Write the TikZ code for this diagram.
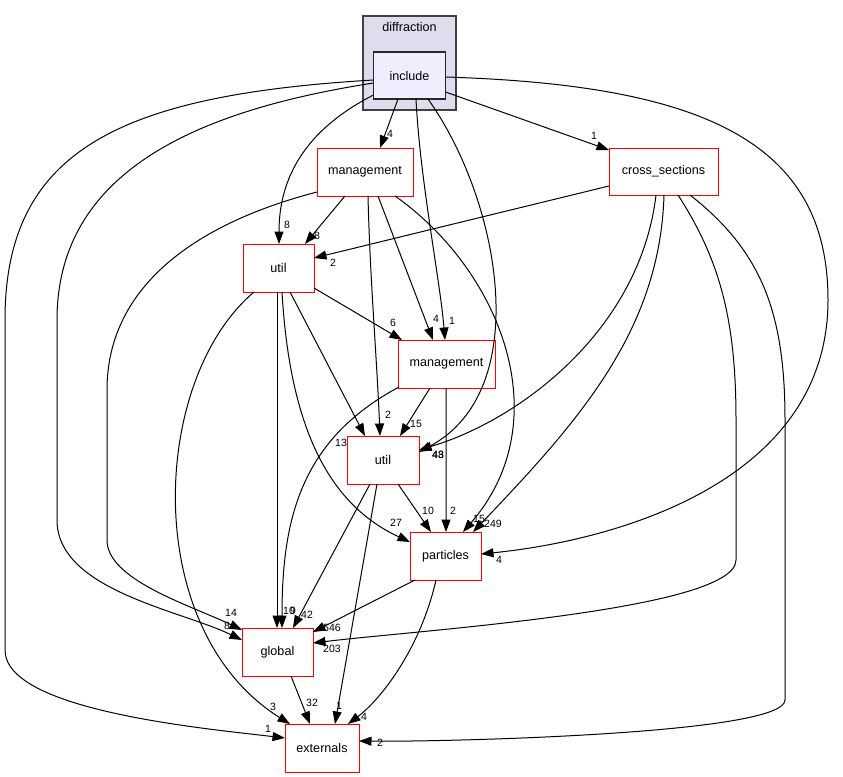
\documentclass[tikz,border=0pt]{standalone}
\usepackage{fontspec}
\setmainfont{Liberation Sans}
\usetikzlibrary{arrows.meta,calc}
\begin{document}
\begin{tikzpicture}[x=1bp,y=-1bp,
  dnode/.style={draw=red, line width=1bp, fill=white, minimum width=#1, minimum height=48bp, inner sep=0pt, font=\fontsize{12.6bp}{14bp}\selectfont},
  dep/.style={draw=black, line width=1bp, -{Triangle[length=12.5bp,width=9bp]}},
  lbl/.style={font=\fontsize{10.5bp}{12bp}\selectfont, inner sep=0pt}]
\useasboundingbox (0,0) rectangle (843,777);
\fill[white] (0,0) rectangle (843,777);
% cluster
\draw[fill={rgb,255:red,221;green,221;blue,238}, draw={rgb,255:red,64;green,64;blue,64}, line width=1.2bp] (363,16) rectangle (456,110);
\node[font=\fontsize{12.6bp}{14bp}\selectfont, inner sep=0pt] (cl) at (409.5,27) {diffraction};
% nodes
\node[dnode=72bp, minimum height=47bp, draw={rgb,255:red,40;green,40;blue,40}, line width=1.2bp, fill={rgb,255:red,238;green,238;blue,255}] (inc) at (409.5,75.5) {include};
\node[dnode=96bp] (m1) at (365,172) {management};
\node[dnode=109bp, minimum height=47bp] (cs) at (663.5,171.5) {cross\_sections};
\node[dnode=71bp] (u1) at (278.5,268) {util};
\node[dnode=97bp] (m2) at (446.5,364) {management};
\node[dnode=72bp] (u2) at (383,460) {util};
\node[dnode=71bp] (pa) at (445.5,556) {particles};
\node[dnode=71bp] (gl) at (277.5,652) {global};
\node[dnode=74bp] (ex) at (322,748) {externals};
% edges from include
\draw[dep] ($(inc)+(-11.5,23.5)$) -- ($(m1)+(15,-24)$);
\draw[dep] ($(inc)+(36,16.5)$) -- ($(cs)+(-54.5,-21.5)$);
\draw[dep] ($(inc)+(-36,19.5)$) .. controls (305,130) and ($(u1)+(0.5,-90)$) .. ($(u1)+(0.5,-24)$);
\draw[dep] ($(inc)+(6.5,23.5)$) .. controls (420,180) and (440,280) .. ($(m2)+(-1.5,-24)$);
\draw[dep] ($(inc)+(18.5,23.5)$) .. controls (500,200) and (535,390) .. ($(u2)+(36,-8)$);
\draw[dep] ($(inc)+(36,1.5)$) .. controls (700,85) and (828,140) .. (828,300) .. controls (828,480) and (620,540) .. ($(pa)+(35.5,-2)$);
\draw[dep] ($(inc)+(-36,7.5)$) .. controls (200,110) and (57,170) .. (57,320) -- (57,520) .. controls (57,590) and (180,610) .. ($(gl)+(-35.5,-12)$);
\draw[dep] ($(inc)+(-36,4.5)$) .. controls (120,95) and (5,150) .. (5,320) -- (5,650) .. controls (5,710) and (200,728) .. ($(ex)+(-37,-10)$);
% edges from management (top)
\draw[dep] ($(m1)+(-20,24)$) -- ($(u1)+(26.5,-24)$);
\draw[dep] ($(m1)+(13,24)$) -- ($(m2)+(-13.5,-24)$);
\draw[dep] ($(m1)+(3,24)$) .. controls (370,280) and (377,360) .. ($(u2)+(-3,-24)$);
\draw[dep] ($(m1)+(30,24)$) .. controls (500,270) and (560,420) .. ($(pa)+(17.5,-24)$);
\draw[dep] ($(m1)+(-48,20)$) .. controls (190,225) and (107,290) .. (107,390) -- (107,540) .. controls (107,580) and (190,605) .. ($(gl)+(-35.5,-22)$);
% edges from cross_sections
\draw[dep] ($(cs)+(-54.5,14.5)$) -- ($(u1)+(35.5,-10)$);
\draw[dep] ($(cs)+(-7.5,23.5)$) .. controls (640,330) and (520,420) .. ($(u2)+(36,-10)$);
\draw[dep] ($(cs)+(0.5,23.5)$) .. controls (660,330) and (580,420) .. ($(pa)+(27.5,-24)$);
\draw[dep] ($(cs)+(14.5,23.5)$) .. controls (720,260) and (736,320) .. (736,420) -- (736,560) .. controls (736,610) and (420,630) .. ($(gl)+(35.5,-9)$);
\draw[dep] ($(cs)+(26.5,23.5)$) .. controls (760,250) and (785,310) .. (785,420) -- (785,700) .. controls (785,735) and (430,742) .. ($(ex)+(37,-7)$);
% edges from util (top)
\draw[dep] ($(u1)+(35.5,20)$) -- ($(m2)+(-44.5,-24)$);
\draw[dep] ($(u1)+(11.5,24)$) -- ($(u2)+(-18,-24)$);
\draw[dep] ($(u1)+(3.5,24)$) .. controls (290,430) and (330,505) .. ($(pa)+(-35.5,-14)$);
\draw[dep] ($(u1)+(-1.5,24)$) -- ($(gl)+(-0.5,-24)$);
\draw[dep] ($(u1)+(-24.5,24)$) .. controls (150,380) and (140,630) .. ($(ex)+(-32,-24)$);
% edges from management (mid)
\draw[dep] ($(m2)+(-16.5,24)$) -- ($(u2)+(17,-24)$);
\draw[dep] ($(m2)+(-0.5,24)$) -- ($(pa)+(0.5,-24)$);
\draw[dep] ($(m2)+(-47.5,23)$) .. controls (300,440) and (282,520) .. ($(gl)+(4.5,-24)$);
% edges from util (mid)
\draw[dep] ($(u2)+(15,24)$) -- ($(pa)+(-14.5,-24)$);
\draw[dep] ($(u2)+(-13,24)$) -- ($(gl)+(15.5,-24)$);
\draw[dep] ($(u2)+(-6,24)$) -- ($(ex)+(13,-24)$);
% edges from particles and global
\draw[dep] ($(pa)+(-30.5,24)$) -- ($(gl)+(35.5,-20)$);
\draw[dep] ($(pa)+(-9.5,24)$) .. controls (420,650) and (380,700) .. ($(ex)+(26,-24)$);
\draw[dep] ($(gl)+(13.5,24)$) -- ($(ex)+(-12,-24)$);
% labels
\node[lbl] (l1) at (390,134) {4};
\node[lbl] (l2) at (594,136) {1};
\node[lbl] (l3) at (287,225) {8};
\node[lbl] (l4) at (452,321) {1};
\node[lbl] (l5) at (438,455) {43};
\node[lbl] (l5b) at (438,455) {48};
\node[lbl] (l6) at (499,560) {4};
\node[lbl] (l7) at (227,626) {8};
\node[lbl] (l8) at (268,729) {1};
\node[lbl] (l9) at (317,236) {8};
\node[lbl] (l10) at (436,319) {4};
\node[lbl] (l11) at (388,415) {2};
\node[lbl] (l12) at (479,519) {15};
\node[lbl] (l13) at (231,613) {14};
\node[lbl] (l14) at (333,263) {2};
\node[lbl] (l16) at (493,524) {249};
\node[lbl] (l17) at (332,649) {203};
\node[lbl] (l18) at (380,743) {2};
\node[lbl] (l19) at (393,323) {6};
\node[lbl] (l20) at (341,443) {13};
\node[lbl] (l21) at (396,523) {27};
\node[lbl] (l22) at (289,611) {10};
\node[lbl] (l23) at (273,707) {3};
\node[lbl] (l24) at (416,424) {15};
\node[lbl] (l25) at (453,511) {2};
\node[lbl] (l26) at (293,611) {9};
\node[lbl] (l27) at (428,511) {10};
\node[lbl] (l28) at (307,615) {42};
\node[lbl] (l29) at (339,706) {1};
\node[lbl] (l30) at (332,628) {546};
\node[lbl] (l31) at (364,717) {4};
\node[lbl] (l32) at (312,703) {32};
\end{tikzpicture}
\end{document}
